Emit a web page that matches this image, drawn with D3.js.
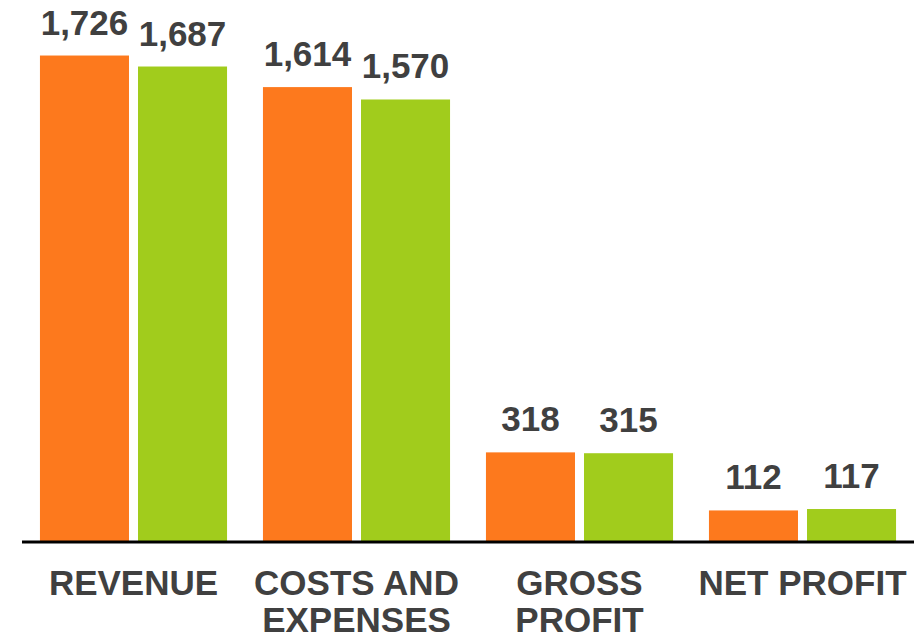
<!DOCTYPE html>
<html>
<head>
<meta charset="utf-8">
<script src="https://cdn.jsdelivr.net/npm/d3@7"></script>
<style>
  body { margin: 0; background: #fff; }
  svg { display: block; font-family: "Liberation Sans", Arial, sans-serif; }
</style>
</head>
<body>
<svg id="chart" width="922" height="640"></svg>
<script>
// chart data
var categories = [["REVENUE"], ["COSTS AND", "EXPENSES"], ["GROSS", "PROFIT"], ["NET PROFIT"]];
var series = ["a", "b"];
var valuesA = [1726, 1614, 318, 112];
var valuesB = [1687, 1570, 315, 117];

var colors = { a: "#FD791D", b: "#A1CC1C" };

var svg = d3.select("#chart");
var margins = { left: 22, right: 8, baseline: 542 };
var width = 922 - margins.left - margins.right;

var rows = categories.map(function (c, i) {
    return { key: i, label: c, a: valuesA[i], b: valuesB[i] };
});

var x0 = d3.scaleBand()
    .domain(rows.map(function (d) { return d.key; }))
    .range([margins.left, margins.left + width])
    .paddingInner(0.161)
    .paddingOuter(0.0805);

var x1 = d3.scaleBand()
    .domain(series)
    .range([0, x0.bandwidth()])
    .paddingInner(0.092);

var y = d3.scaleLinear()
    .domain([0, 1923])
    .range([margins.baseline, 0]);

var groups = svg.append("g")
    .selectAll("g")
    .data(rows)
    .enter().append("g")
    .attr("transform", function (d) { return "translate(" + x0(d.key) + ",0)"; });

var bars = groups.selectAll("rect")
    .data(function (d) { return series.map(function (s) { return { s: s, v: d[s] }; }); })
    .enter();

bars.append("rect")
    .attr("x", function (d) { return x1(d.s); })
    .attr("y", function (d) { return y(d.v); })
    .attr("width", x1.bandwidth())
    .attr("height", function (d) { return y(0) - y(d.v); })
    .attr("fill", function (d) { return colors[d.s]; });

// value labels above bars
bars.append("text")
    .attr("x", function (d) { return x1(d.s) + x1.bandwidth() / 2; })
    .attr("y", function (d) { return y(d.v) - 21; })
    .attr("text-anchor", "middle")
    .attr("font-size", "35px")
    .attr("font-weight", "bold")
    .attr("fill", "#404040")
    .text(function (d) { return d3.format(",")(d.v); });

// baseline
svg.append("line")
    .attr("x1", margins.left)
    .attr("x2", margins.left + width)
    .attr("y1", y(0))
    .attr("y2", y(0))
    .attr("stroke", "#000")
    .attr("stroke-width", 3);

// category labels (second line kept inside the 640px frame)
var labels = groups.append("text")
    .attr("text-anchor", "middle")
    .attr("font-size", "35px")
    .attr("font-weight", "bold")
    .attr("fill", "#404040");

labels.selectAll("tspan")
    .data(function (d) { return d.label; })
    .enter().append("tspan")
    .attr("x", x0.bandwidth() / 2)
    .attr("y", function (d, i) { return 595 + i * 37; })
    .text(function (d) { return d; });
</script>
</body>
</html>
